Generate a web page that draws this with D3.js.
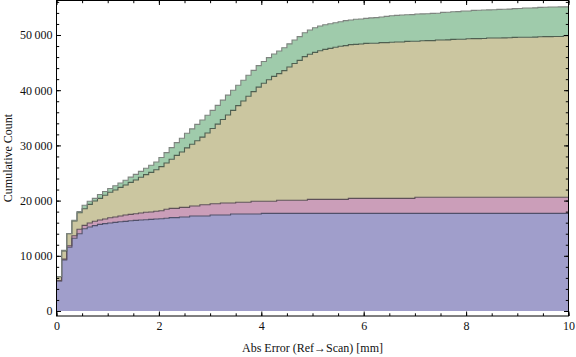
<!DOCTYPE html>
<html>
<head>
<meta charset="utf-8">
<script src="https://cdn.jsdelivr.net/npm/d3@7"></script>
<style>
  body { margin: 0; background: #fff; }
  svg { display: block; }
  .TickText { font-family: "Liberation Serif", "DejaVu Serif", serif; font-size: 12px; fill: #111; }
  .AxisLabel { font-family: "Liberation Serif", "DejaVu Serif", serif; font-size: 12px; fill: #111; }
</style>
</head>
<body>
<svg id="SvgContainer"></svg>
<script>
// Globals
var width = 576;
var height = 357;

// bins of 0.1 mm, cumulative (stacked) counts
var binWidth = 0.1;

var blueTop = [
  5430, 9250, 11540, 13170, 14000, 14900, 15220, 15460, 15700, 15820,
  15940, 16060, 16180, 16240, 16360, 16420, 16490, 16540, 16600, 16670,
  16720, 16800, 16910, 16910, 17030, 17030, 17210, 17210, 17210, 17210,
  17390, 17390, 17390, 17390, 17570, 17570, 17570, 17570, 17570, 17570,
  17690, 17690, 17690, 17690, 17690, 17690, 17690, 17690, 17690, 17690,
  17690, 17690, 17690, 17690, 17690, 17690, 17690, 17690, 17690, 17690,
  17690, 17690, 17690, 17690, 17690, 17690, 17690, 17690, 17690, 17690,
  17690, 17690, 17690, 17690, 17690, 17690, 17690, 17690, 17690, 17690,
  17690, 17690, 17690, 17690, 17690, 17690, 17690, 17690, 17690, 17690,
  17690, 17690, 17690, 17690, 17690, 17690, 17690, 17690, 17690, 17690
];

var pinkTop = [
  5500, 9400, 11830, 13640, 14800, 15520, 15940, 16250, 16490, 16670,
  16900, 17030, 17210, 17390, 17510, 17630, 17750, 17880, 17930, 18060,
  18170, 18420, 18600, 18600, 18780, 18780, 19020, 19020, 19260, 19260,
  19440, 19440, 19570, 19570, 19570, 19690, 19690, 19690, 19870, 19870,
  19870, 19870, 19870, 20050, 20050, 20050, 20050, 20050, 20050, 20230,
  20230, 20230, 20230, 20230, 20230, 20230, 20230, 20410, 20410, 20410,
  20410, 20410, 20410, 20410, 20410, 20410, 20410, 20410, 20410, 20410,
  20600, 20600, 20600, 20600, 20600, 20600, 20600, 20600, 20600, 20600,
  20600, 20600, 20600, 20600, 20600, 20600, 20600, 20600, 20600, 20600,
  20600, 20600, 20600, 20600, 20600, 20600, 20600, 20600, 20600, 20600
];

var khakiTop = [
  6200, 10900, 14000, 16300, 17800, 18530, 19320, 19930, 20410, 20960,
  21500, 21920, 22400, 22830, 23310, 23730, 24220, 24700, 25120, 25600,
  26150, 26800, 27500, 28200, 28800, 29550, 30200, 30850, 31500, 32250,
  33050, 33850, 34700, 35500, 36350, 37200, 38050, 38900, 39750, 40550,
  41250, 41900, 42500, 43000, 43550, 44200, 44850, 45400, 46080, 46500,
  46860, 47160, 47400, 47580, 47770, 47950, 48070, 48250, 48300, 48370,
  48490, 48500, 48510, 48610, 48620, 48700, 48730, 48740, 48850, 48860,
  48870, 48970, 48980, 48990, 49090, 49100, 49110, 49210, 49220, 49230,
  49330, 49340, 49350, 49360, 49450, 49460, 49470, 49480, 49490, 49570,
  49580, 49590, 49600, 49610, 49690, 49700, 49710, 49720, 49730, 49870
];

var greenTop = [
  6250, 11000, 14050, 16430, 18000, 19150, 19870, 20410, 21100, 21650,
  22200, 22700, 23200, 23700, 24250, 24750, 25300, 25850, 26400, 27000,
  27800, 28700, 29600, 30500, 31300, 32200, 33000, 33800, 34600, 35450,
  36350, 37250, 38200, 39100, 40000, 40900, 41800, 42700, 43600, 44450,
  45200, 45900, 46550, 47100, 47700, 48400, 49100, 49700, 50400, 50900,
  51300, 51630, 51870, 52050, 52230, 52410, 52600, 52720, 52840, 52900,
  53020, 53100, 53150, 53260, 53380, 53500, 53560, 53620, 53680, 53700,
  53800, 53820, 53850, 53920, 53950, 54100, 54120, 54220, 54240, 54340,
  54360, 54460, 54480, 54530, 54550, 54570, 54650, 54670, 54690, 54770,
  54790, 54890, 54900, 54920, 55010, 55020, 55070, 55080, 55090, 55100
];

var xTicks = [0, 2, 4, 6, 8, 10];
var yTicks = [0, 10000, 20000, 30000, 40000, 50000];

var layerColors = ["#a09ecb", "#cb9eb9", "#cbc6a0", "#9fcbab"];
var lineColors = ["#50506a", "#5e5058", "#4f5f50", "#7e847f"];

var plotLeft = 56.5, plotRight = 568.5, plotTop = 0.5, plotBottom = 316;

var svgContainer = d3.select("svg")
    .attr("width", width)
    .attr("height", height);

var x = d3.scaleLinear().domain([0, 10]).range([plotLeft, plotRight]);
var y = d3.scaleLinear().domain([-906, 56250]).range([plotBottom, plotTop]);

// stacked boundaries, bottom first
var bounds = [blueTop.map(function () { return 0; }), blueTop, pinkTop, khakiTop, greenTop];

function stepPoints(lo, hi) {
    var pts = hi.map(function (v, i) {
        return { x: i * binWidth, lo: lo[i], hi: v };
    });
    pts.push({ x: hi.length * binWidth, lo: lo[lo.length - 1], hi: hi[hi.length - 1] });
    return pts;
}

var area = d3.area()
    .curve(d3.curveStepAfter)
    .x(function (d) { return x(d.x); })
    .y0(function (d) { return y(d.lo); })
    .y1(function (d) { return y(d.hi); });

var line = d3.line()
    .curve(d3.curveStepAfter)
    .x(function (d) { return x(d.x); })
    .y(function (d) { return y(d.hi); });

var LayerGroup = svgContainer.append("g").attr("id", "LayerGroup");

for (var k = 1; k < bounds.length; k++) {
    LayerGroup.append("path")
        .datum(stepPoints(bounds[k - 1], bounds[k]))
        .attr("d", area)
        .attr("fill", layerColors[k - 1])
        .attr("stroke", "none");
}

for (var k = 1; k < bounds.length; k++) {
    LayerGroup.append("path")
        .datum(stepPoints(bounds[k - 1], bounds[k]))
        .attr("d", line)
        .attr("fill", "none")
        .attr("stroke", lineColors[k - 1])
        .attr("stroke-width", 1.1);
}

// frame + ticks (inward, Mathematica style)
function fmt(v) {
    return d3.format(",")(v).replace(/,/g, "\u2009");
}
var xMinor = d3.range(0, 10.01, 0.5);
var yMinor = d3.range(0, 56001, 2000);
var major = 4.5, minor = 2.7;

function styleAxis(g) {
    g.select(".domain").remove();
    g.selectAll(".tick line").attr("stroke", "#000").attr("stroke-width", 1);
    g.selectAll("text").attr("class", "TickText").attr("font-family", null).attr("font-size", null);
}

svgContainer.append("g")
    .attr("transform", "translate(0," + plotBottom + ")")
    .call(d3.axisBottom(x).tickValues(xMinor).tickSize(-minor).tickFormat(""))
    .call(styleAxis);
svgContainer.append("g")
    .attr("transform", "translate(0," + plotBottom + ")")
    .call(d3.axisBottom(x).tickValues(xTicks).tickSize(-major).tickPadding(5).tickFormat(fmt))
    .call(styleAxis);
svgContainer.append("g")
    .attr("transform", "translate(0," + plotTop + ")")
    .call(d3.axisTop(x).tickValues(xMinor).tickSize(-minor).tickFormat(""))
    .call(styleAxis);
svgContainer.append("g")
    .attr("transform", "translate(0," + plotTop + ")")
    .call(d3.axisTop(x).tickValues(xTicks).tickSize(-major).tickFormat(""))
    .call(styleAxis);

svgContainer.append("g")
    .attr("transform", "translate(" + plotLeft + ",0)")
    .call(d3.axisLeft(y).tickValues(yMinor).tickSize(-minor).tickFormat(""))
    .call(styleAxis);
svgContainer.append("g")
    .attr("transform", "translate(" + plotLeft + ",0)")
    .call(d3.axisLeft(y).tickValues(yTicks).tickSize(-major).tickPadding(4).tickFormat(fmt))
    .call(styleAxis);
svgContainer.append("g")
    .attr("transform", "translate(" + plotRight + ",0)")
    .call(d3.axisRight(y).tickValues(yMinor).tickSize(-minor).tickFormat(""))
    .call(styleAxis);
svgContainer.append("g")
    .attr("transform", "translate(" + plotRight + ",0)")
    .call(d3.axisRight(y).tickValues(yTicks).tickSize(-major).tickFormat(""))
    .call(styleAxis);

svgContainer.append("rect")
    .attr("x", plotLeft)
    .attr("y", plotTop)
    .attr("width", plotRight - plotLeft)
    .attr("height", plotBottom - plotTop)
    .attr("fill", "none")
    .attr("stroke", "#000")
    .attr("stroke-width", 1);

// axis labels
svgContainer.append("text")
    .attr("class", "AxisLabel")
    .attr("text-anchor", "middle")
    .attr("x", (plotLeft + plotRight) / 2)
    .attr("y", 352)
    .text("Abs Error (Ref\u2192Scan) [mm]");

svgContainer.append("text")
    .attr("class", "AxisLabel")
    .attr("text-anchor", "middle")
    .attr("transform", "translate(12," + (plotBottom / 2) + ") rotate(-90)")
    .text("Cumulative Count");
</script>
</body>
</html>
